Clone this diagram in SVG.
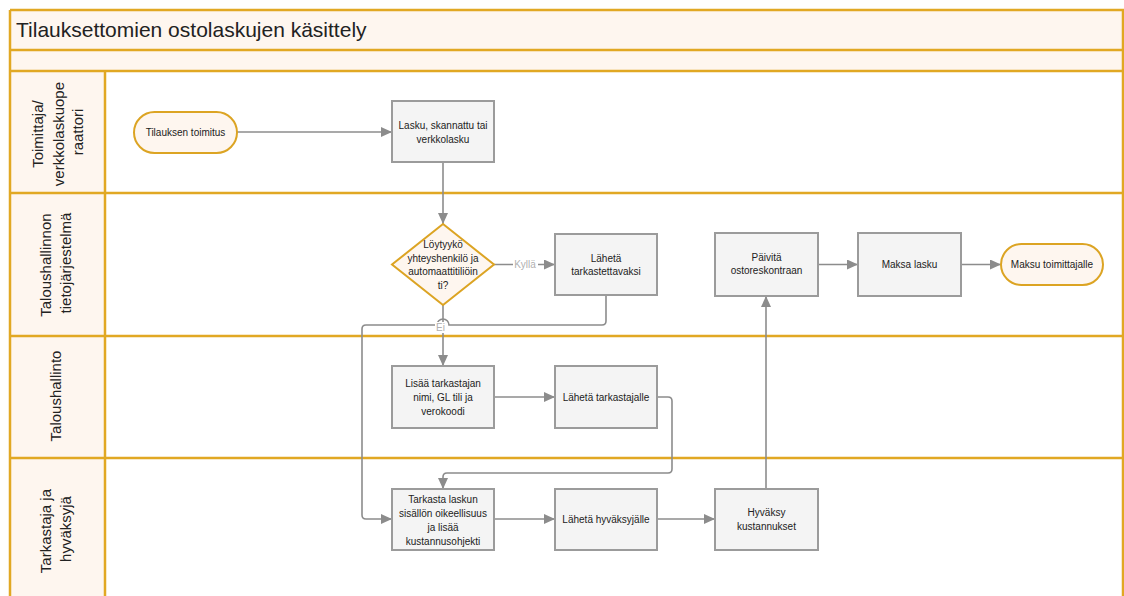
<svg xmlns="http://www.w3.org/2000/svg" width="1124" height="596" viewBox="0 0 1124 596">
  <style>
    .band { fill: #FEF6EF; }
    .lane { stroke: #E1A823; stroke-width: 2.5; fill: none; }
    .hdr { font-family: "Liberation Sans", Arial, sans-serif; font-size: 15px; fill: #222; text-anchor: middle; }
    .title { font-family: "Liberation Sans", Arial, sans-serif; font-size: 21px; fill: #222; }
    .box { fill: #F4F4F4; stroke: #9B9B9B; stroke-width: 2; }
    .term { fill: #FEF6EF; stroke: #DCA423; stroke-width: 2; }
    .dec { fill: #FEF6EF; stroke: #DCA423; stroke-width: 2; }
    .lbl { font-family: "Liberation Sans", Arial, sans-serif; font-size: 10px; fill: #222; text-anchor: middle; }
    .edge { fill: none; stroke: #8C8C8C; stroke-width: 1.6; }
    .elbl { font-family: "Liberation Sans", Arial, sans-serif; font-size: 10px; fill: #B0B0B0; text-anchor: middle; }
  </style>
  <defs>
    <marker id="arrow" markerUnits="userSpaceOnUse" markerWidth="12" markerHeight="10" refX="11" refY="5" orient="auto">
      <path d="M0,0 L11,5 L0,10 Z" fill="#8C8C8C"/>
    </marker>
  </defs>

  <rect x="0" y="0" width="1124" height="596" fill="#FFFFFF"/>

  <!-- pool frame, title and lane headers -->
  <g id="pool">
    <rect class="band" x="10" y="10" width="1113" height="61"/>
    <rect class="band" x="10" y="71" width="95" height="530"/>
    <text class="title" x="16" y="37">Tilauksettomien ostolaskujen käsittely</text>
    <path class="lane" d="M10,10 H1123 V601 M10,10 V601 M10,50 H1123 M10,71 H1123 M105,71 V601 M10,193 H1123 M10,336 H1123 M10,458 H1123"/>
  </g>

  <g id="lane-toimittaja">
    <text class="hdr" transform="translate(0,132) rotate(-90)">
      <tspan x="0" y="43">Toimittaja/</tspan>
      <tspan x="0" y="63.5">verkkolaskuope</tspan>
      <tspan x="0" y="83">raattori</tspan>
    </text>
  </g>
  <g id="lane-tietojarjestelma">
    <text class="hdr" transform="translate(0,263) rotate(-90)">
      <tspan x="0" y="51">Taloushallinnon</tspan>
      <tspan x="0" y="71">tietojärjestelmä</tspan>
    </text>
  </g>
  <g id="lane-taloushallinto">
    <text class="hdr" transform="translate(0,396) rotate(-90)">
      <tspan x="0" y="61">Taloushallinto</tspan>
    </text>
  </g>
  <g id="lane-tarkastaja">
    <text class="hdr" transform="translate(0,529) rotate(-90)">
      <tspan x="0" y="51">Tarkastaja ja</tspan>
      <tspan x="0" y="71">hyväksyjä</tspan>
    </text>
  </g>

  <!-- connectors -->
  <g id="connectors">
    <path class="edge" marker-end="url(#arrow)" d="M237,132 H392"/>
    <path class="edge" marker-end="url(#arrow)" d="M443,162 V224"/>
    <path class="edge" marker-end="url(#arrow)" d="M494,264.5 H555"/>
    <path class="edge" marker-end="url(#arrow)" d="M443,305 V366"/>
    <path class="edge" marker-end="url(#arrow)" d="M606,295 V321 Q606,325 602,325 H449 A6,6 0 0 0 437,325 H366 Q362,325 362,329 V515 Q362,519 366,519 H392"/>
    <path class="edge" marker-end="url(#arrow)" d="M494,397 H555"/>
    <path class="edge" marker-end="url(#arrow)" d="M657,397 H668 Q672,397 672,401 V469 Q672,473 668,473 H447 Q443,473 443,477 V489"/>
    <path class="edge" marker-end="url(#arrow)" d="M494,519 H555"/>
    <path class="edge" marker-end="url(#arrow)" d="M657,519 H715"/>
    <path class="edge" marker-end="url(#arrow)" d="M766,489 V296"/>
    <path class="edge" marker-end="url(#arrow)" d="M818,264.5 H858"/>
    <path class="edge" marker-end="url(#arrow)" d="M961,264.5 H1001"/>
    <rect x="513" y="259" width="25" height="11" fill="#FFFFFF"/>
    <text class="elbl" x="525" y="268">Kyllä</text>
    <rect x="435" y="322" width="11" height="11" fill="#FFFFFF"/>
    <text class="elbl" x="440.5" y="331">Ei</text>
  </g>

  <!-- nodes -->
  <g id="n-tilauksen-toimitus">
    <rect class="term" x="134" y="112" width="103" height="41" rx="20.5"/>
    <text class="lbl" x="185.5" y="135.5">Tilauksen toimitus</text>
  </g>
  <g id="n-lasku">
    <rect class="box" x="392" y="101" width="102" height="61"/>
    <text class="lbl"><tspan x="443" y="128.5">Lasku, skannattu tai</tspan><tspan x="443" y="142.5">verkkolasku</tspan></text>
  </g>
  <g id="n-loytyyko">
    <polygon class="dec" points="443,224 494,264.5 443,305 392,264.5"/>
    <text class="lbl"><tspan x="443" y="247.5">Löytyykö</tspan><tspan x="443" y="261.5">yhteyshenkilö ja</tspan><tspan x="443" y="275">automaattitiliöin</tspan><tspan x="443" y="289">ti?</tspan></text>
  </g>
  <g id="n-laheta-tarkastettavaksi">
    <rect class="box" x="555" y="234" width="102" height="61"/>
    <text class="lbl"><tspan x="606" y="261.5">Lähetä</tspan><tspan x="606" y="275">tarkastettavaksi</tspan></text>
  </g>
  <g id="n-paivita">
    <rect class="box" x="715" y="233" width="103" height="63"/>
    <text class="lbl"><tspan x="766.5" y="260.5">Päivitä</tspan><tspan x="766.5" y="274">ostoreskontraan</tspan></text>
  </g>
  <g id="n-maksa-lasku">
    <rect class="box" x="858" y="233" width="103" height="63"/>
    <text class="lbl" x="909.5" y="268">Maksa lasku</text>
  </g>
  <g id="n-maksu-toimittajalle">
    <rect class="term" x="1001" y="244" width="102" height="41" rx="20.5"/>
    <text class="lbl" x="1052" y="268">Maksu toimittajalle</text>
  </g>
  <g id="n-lisaa-tarkastajan">
    <rect class="box" x="392" y="366" width="102" height="62"/>
    <text class="lbl"><tspan x="443" y="386.5">Lisää tarkastajan</tspan><tspan x="443" y="400.5">nimi, GL tili ja</tspan><tspan x="443" y="414.5">verokoodi</tspan></text>
  </g>
  <g id="n-laheta-tarkastajalle">
    <rect class="box" x="555" y="366" width="102" height="62"/>
    <text class="lbl" x="606" y="400.5">Lähetä tarkastajalle</text>
  </g>
  <g id="n-tarkasta-laskun">
    <rect class="box" x="392" y="489" width="102" height="61"/>
    <text class="lbl"><tspan x="443" y="502.5">Tarkasta laskun</tspan><tspan x="443" y="516.5">sisällön oikeellisuus</tspan><tspan x="443" y="530.5">ja lisää</tspan><tspan x="443" y="544.5">kustannusohjekti</tspan></text>
  </g>
  <g id="n-laheta-hyvaksyjalle">
    <rect class="box" x="555" y="489" width="102" height="61"/>
    <text class="lbl" x="606" y="523">Lähetä hyväksyjälle</text>
  </g>
  <g id="n-hyvaksy-kustannukset">
    <rect class="box" x="715" y="489" width="103" height="61"/>
    <text class="lbl"><tspan x="766.5" y="516">Hyväksy</tspan><tspan x="766.5" y="529.5">kustannukset</tspan></text>
  </g>
</svg>
